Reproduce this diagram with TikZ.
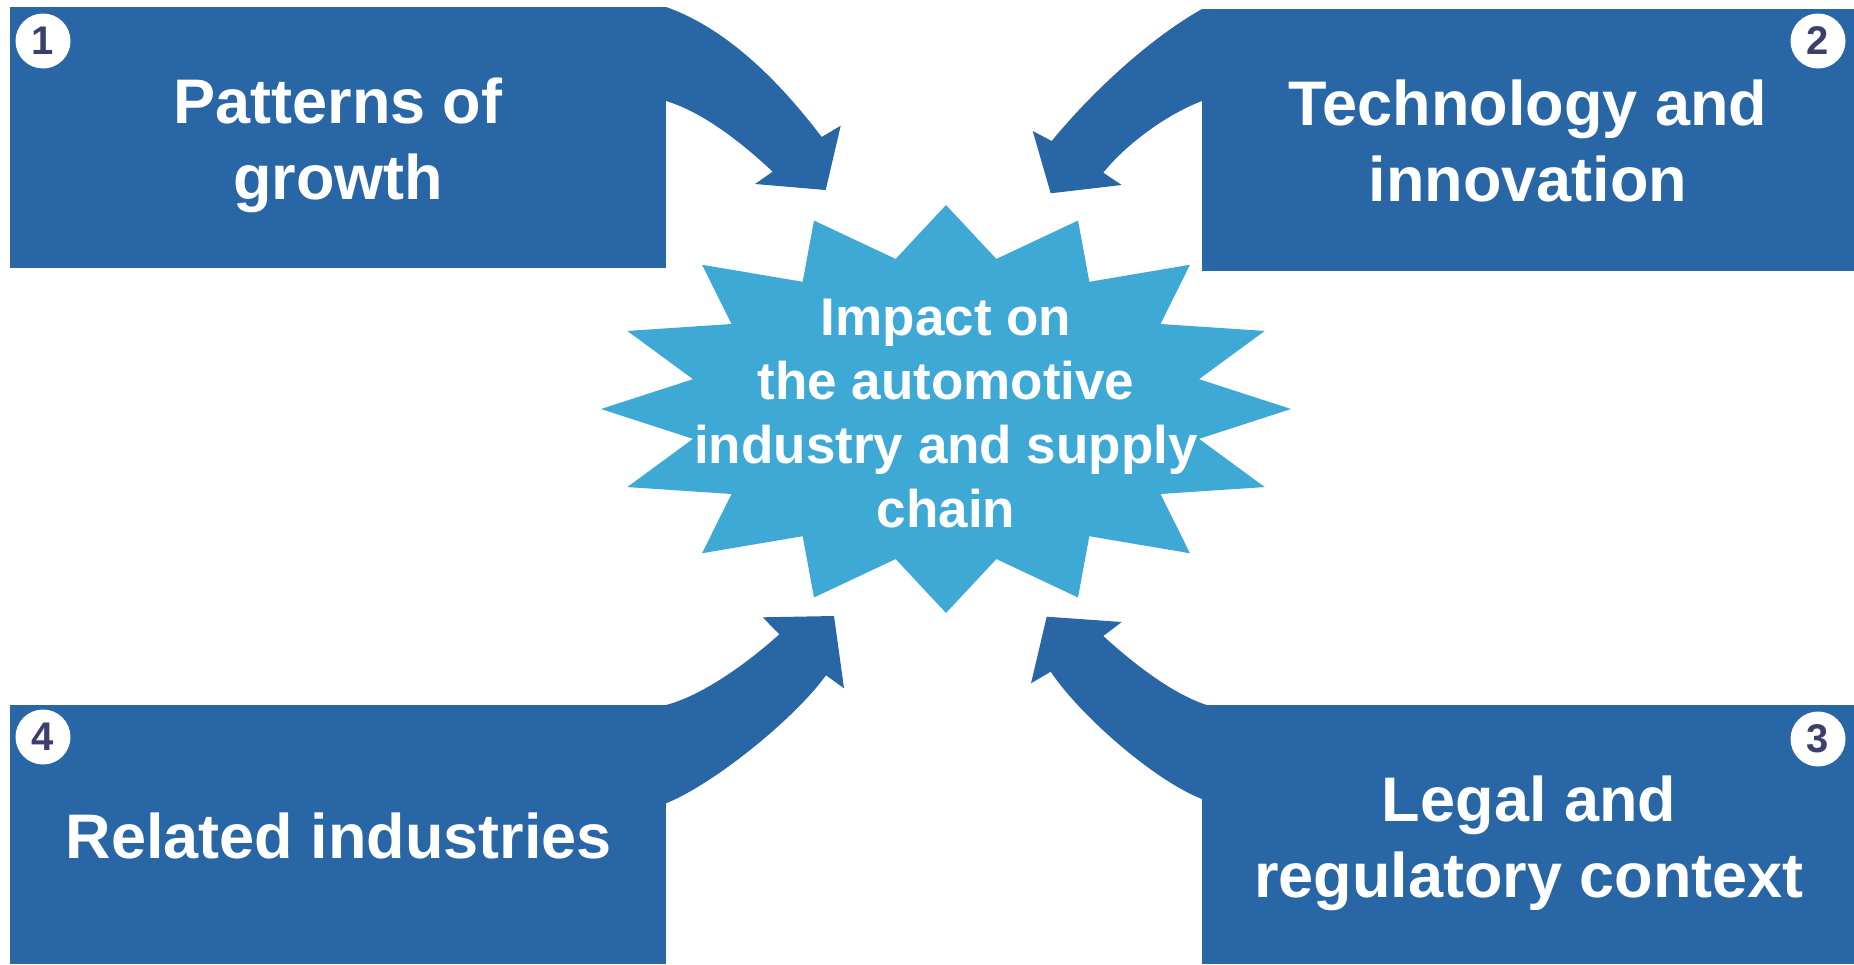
\documentclass[tikz,border=0pt]{standalone}
\usepackage{fontspec}
\setmainfont{Liberation Sans}
\definecolor{boxblue}{HTML}{2866A5}
\definecolor{starblue}{HTML}{3FA9D6}
\definecolor{digitnavy}{HTML}{3B3F6E}
\begin{document}
\begin{tikzpicture}[x=1pt,y=-1pt,
  boxnode/.style={fill=boxblue, inner sep=0pt, outer sep=0pt, draw=none},
  boxtext/.style={text=white, font=\fontsize{63}{76}\selectfont\bfseries, align=center, anchor=base, inner sep=0pt},
  startext/.style={text=white, font=\fontsize{53}{64}\selectfont\bfseries, align=center, anchor=base, inner sep=0pt},
  badge/.style={circle, fill=white, minimum size=55pt, inner sep=0pt, text=digitnavy, font=\fontsize{40}{40}\selectfont\bfseries},
  arrowfill/.style={fill=boxblue}]
\useasboundingbox (0,0) rectangle (1854,964);
% boxes
\node[boxnode, minimum width=656pt, minimum height=261pt] (b1) at (338,137.5) {};
\node[boxnode, minimum width=652pt, minimum height=262pt] (b2) at (1528,140) {};
\node[boxnode, minimum width=652pt, minimum height=259pt] (b3) at (1528,834.5) {};
\node[boxnode, minimum width=656pt, minimum height=259pt] (b4) at (338,834.5) {};
% curved block arrows
\fill[arrowfill] (660,7) -- (666,7) .. controls (736,31.5) and (791.5,97.5) .. (821.7,137) -- (840.7,125.7) -- (825.7,190) -- (755,184) -- (772.7,171.7) .. controls (747.5,148) and (706,113) .. (666,101) -- (660,101) -- cycle;
\fill[arrowfill] (1208,9) -- (1202,9) .. controls (1142,43) and (1083.5,102) .. (1051.7,141) -- (1032.7,131) -- (1050.7,193.3) -- (1121.7,185) -- (1103.3,172.7) .. controls (1124.7,145.7) and (1165,115) .. (1202,101) -- (1208,101) -- cycle;
\fill[arrowfill] (660,705) -- (666,705) .. controls (706,694.5) and (753.4,657.8) .. (779.3,634.3) -- (762.7,617.3) -- (834,616) -- (844,688.3) -- (826,675.3) .. controls (793.5,719.9) and (712.5,784.8) .. (666,803.3) -- (660,803.3) -- cycle;
\fill[arrowfill] (1212,705) -- (1206.7,705) .. controls (1168.7,692.8) and (1125.5,656.4) .. (1103.3,636) -- (1121.7,622) -- (1046.7,616.7) -- (1031,683.3) -- (1050.7,671.7) .. controls (1081.5,717.4) and (1156.3,781.5) .. (1202,799) -- (1212,799) -- cycle;
% star
\fill[starblue] (1291,409) \foreach \i in {1,...,31}{ -- ({946+cos(\i*11.25)*ifthenelse(mod(\i,2)==0,345,258)},{409-sin(\i*11.25)*ifthenelse(mod(\i,2)==0,204,153)}) } -- cycle;
% texts (base anchor = baseline of the last line)
\node[boxtext] (t1) at (338,199) {Patterns of\\growth};
\node[boxtext] (t2) at (1528,201) {Technology and\\innovation};
\node[boxtext] (t3) at (1529,897) {Legal and\\regulatory context};
\node[boxtext] (t4) at (339,858) {Related industries};
\node[startext] (st) at (946,527) {Impact on\\the automotive\\industry and supply\\chain};
% badges
\node[badge] (n1) at (43,41) {1};
\node[badge] (n2) at (1818,41) {2};
\node[badge] (n3) at (1818,739) {3};
\node[badge] (n4) at (43,737) {4};
\end{tikzpicture}
\end{document}
